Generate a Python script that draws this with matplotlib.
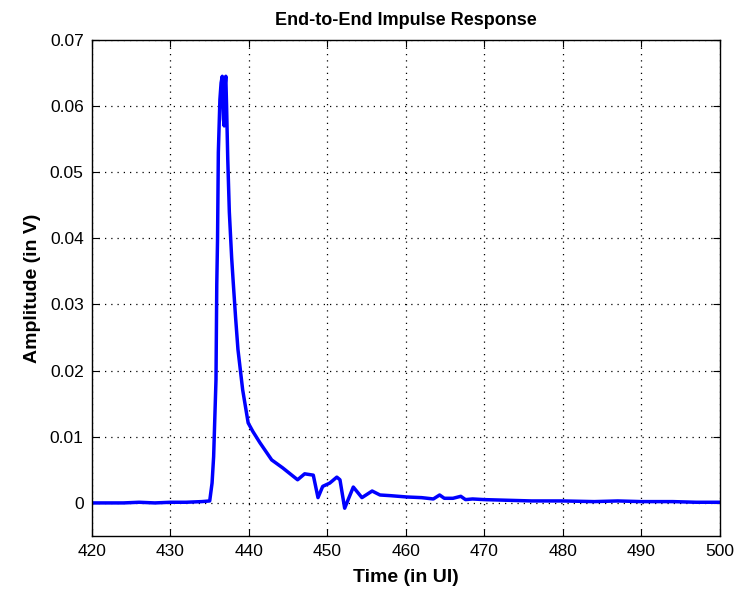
import numpy as np
import matplotlib
matplotlib.use('Agg')
from matplotlib import pyplot as plt

# Time (UI) and amplitude (V)
time_ui = [420.0, 424.0, 426.0, 428.0, 430.0, 432.0, 434.0, 435.0, 435.3, 435.5,
           435.8, 435.9, 436.0, 436.1, 436.3, 436.45, 436.6, 436.75, 436.85, 436.95,
           437.05, 437.15, 437.3, 437.5, 437.8, 438.0, 438.3, 438.6, 439.2, 439.9, 440.5,
           441.4, 442.9, 444.3, 446.2, 447.1, 448.2, 448.8, 449.4, 450.3, 451.2,
           451.6, 452.2, 453.3, 454.4, 455.7, 456.7, 458.0, 460.1, 462.0, 463.5,
           464.3, 464.9, 466.0, 467.0, 467.6, 468.5, 470.0, 473.0, 476.0, 480.0,
           484.0, 487.0, 490.0, 494.0, 497.0, 500.0]
amplitude = [0.0, 0.0, 0.0001, 0.0, 0.0001, 0.0001, 0.0002, 0.0003, 0.003, 0.007,
             0.0186, 0.033, 0.040, 0.053, 0.061, 0.0635, 0.0645, 0.058, 0.057, 0.063,
             0.0645, 0.060, 0.052, 0.044, 0.037, 0.0333, 0.028, 0.0232, 0.0171, 0.0121, 0.0108,
             0.0091, 0.0065, 0.0053, 0.0035, 0.0044, 0.0042, 0.0008, 0.0025, 0.003, 0.0039,
             0.0035, -0.0008, 0.0024, 0.0008, 0.0018, 0.0012, 0.0011, 0.0009, 0.0008, 0.0006,
             0.0012, 0.0007, 0.0007, 0.0010, 0.0005, 0.0006, 0.0005, 0.0004, 0.0003, 0.0003,
             0.0002, 0.0003, 0.0002, 0.0002, 0.0001, 0.0001]

plt.rcParams['font.family'] = ['Liberation Sans', 'DejaVu Sans']

fig = plt.figure(figsize=(7.42, 5.92), dpi=100)
ax = fig.add_axes([0.124, 0.0946, 0.846, 0.838])

ax.plot(time_ui, amplitude, color=(0, 0, 1), linewidth=2.5)

ax.set_xlim(420, 500)
ax.set_ylim(-0.005, 0.07)
ax.set_xticks(np.arange(420, 501, 10))
ax.set_yticks(np.arange(0, 0.0701, 0.01))
ax.set_yticklabels(['0', '0.01', '0.02', '0.03', '0.04', '0.05', '0.06', '0.07'])
ax.tick_params(direction='in', top=True, right=True, labelsize=12.5, length=5, pad=6)
ax.grid(True, linestyle=(0, (1, 4)), color='black', linewidth=0.9)
for sp in ax.spines.values():
    sp.set_linewidth(1.0)

ax.set_title('End-to-End Impulse Response', fontsize=13, fontweight='bold', pad=11)
ax.set_xlabel('Time (in UI)', fontsize=14, fontweight='bold', labelpad=7)
ax.set_ylabel('Amplitude (in V)', fontsize=14, fontweight='bold', labelpad=6)

fig.savefig('out.png', dpi=100)
